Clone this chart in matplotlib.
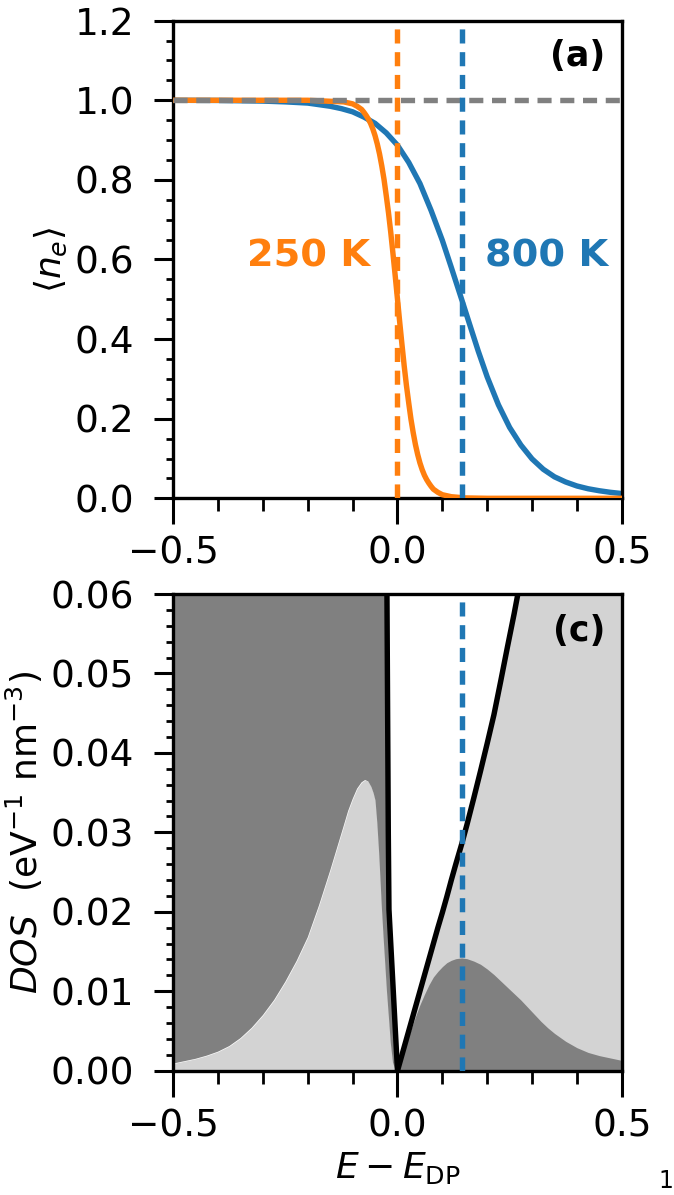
import matplotlib
matplotlib.use("Agg")
from matplotlib import pyplot as plt
from matplotlib.ticker import MultipleLocator

# Datos
# ========================================
# Panel (a): ocupacion <n_e> frente a E - E_DP
e_250 = [-0.5, -0.2, -0.12, -0.1, -0.09, -0.08, -0.075, -0.07, -0.065, -0.06,
         -0.055, -0.05, -0.045, -0.04, -0.035, -0.03, -0.025, -0.02, -0.015,
         -0.01, -0.005, 0.0, 0.005, 0.01, 0.015, 0.02, 0.025, 0.03, 0.035,
         0.04, 0.045, 0.05, 0.055, 0.06, 0.065, 0.07, 0.075, 0.08, 0.09, 0.1,
         0.12, 0.15, 0.2, 0.5]
n_250 = [1.0, 1.0, 0.996, 0.991, 0.985, 0.977, 0.970, 0.962, 0.953, 0.942,
         0.928, 0.911, 0.890, 0.865, 0.835, 0.801, 0.760, 0.717, 0.668,
         0.614, 0.558, 0.5, 0.442, 0.386, 0.332, 0.283, 0.240, 0.199, 0.165,
         0.135, 0.110, 0.089, 0.072, 0.058, 0.047, 0.038, 0.030, 0.023, 0.015,
         0.009, 0.004, 0.001, 0.0, 0.0]

e_800 = [-0.5, -0.4, -0.3, -0.25, -0.2, -0.15, -0.125, -0.1, -0.075, -0.05,
         -0.025, 0.0, 0.025, 0.05, 0.075, 0.1, 0.12, 0.143, 0.16, 0.18, 0.2,
         0.225, 0.25, 0.275, 0.3, 0.325, 0.35, 0.375, 0.4, 0.425, 0.45,
         0.475, 0.5]
n_800 = [1.0, 0.9996, 0.998, 0.996, 0.993, 0.985, 0.979, 0.971, 0.958, 0.942,
         0.918, 0.887, 0.844, 0.791, 0.723, 0.648, 0.58, 0.5, 0.44, 0.37,
         0.305, 0.235, 0.178, 0.134, 0.099, 0.073, 0.054, 0.041, 0.031, 0.024,
         0.019, 0.015, 0.012]

mu_250 = 0.0
mu_800 = 0.143

# Panel (c): densidad de estados (banda de valencia y de conduccion)
e_vb = [-0.5, -0.475, -0.45, -0.425, -0.4, -0.375, -0.35, -0.325, -0.3,
        -0.275, -0.25, -0.225, -0.2, -0.175, -0.15, -0.135, -0.12, -0.11,
        -0.1, -0.09, -0.08, -0.072, -0.065, -0.058, -0.053, -0.049, -0.045,
        -0.041, -0.038, -0.035, -0.031, -0.027, -0.0235, -0.0215, -0.0205,
        -0.019, -0.015, -0.01, -0.005, 0.0]
dos_vb = [0.2, 0.2, 0.2, 0.2, 0.2, 0.2, 0.2, 0.2, 0.2,
          0.2, 0.2, 0.2, 0.2, 0.2, 0.2, 0.2, 0.2, 0.2,
          0.2, 0.19, 0.18, 0.17, 0.16, 0.15, 0.14, 0.13, 0.12,
          0.11, 0.1, 0.095, 0.085, 0.072, 0.06, 0.04, 0.03,
          0.0203, 0.016, 0.0107, 0.0053, 0.0]
holes_vb = [0.0009, 0.0012, 0.0015, 0.0019, 0.0024, 0.0031, 0.0041, 0.0054,
            0.0070, 0.0089, 0.0112, 0.0138, 0.0168, 0.0208, 0.0252, 0.0280,
            0.0308, 0.0327, 0.0342, 0.0355, 0.0363, 0.0366, 0.0364, 0.0357,
            0.0349, 0.0340, 0.0312, 0.0275, 0.0242, 0.0207, 0.0168, 0.0132,
            0.0100, 0.0085, 0.0077, 0.0066, 0.0035, 0.0010, 0.0002, 0.0]

e_cb = [0.0, 0.01, 0.02, 0.03, 0.04, 0.05, 0.06, 0.07, 0.08, 0.09, 0.1,
        0.11, 0.12, 0.13, 0.143, 0.155, 0.17, 0.185, 0.2, 0.215, 0.23,
        0.245, 0.26, 0.275, 0.29, 0.305, 0.32, 0.335, 0.35, 0.375, 0.4,
        0.425, 0.45, 0.475, 0.5]
dos_cb = [0.0, 0.002, 0.004, 0.006, 0.008, 0.010, 0.012, 0.014, 0.016,
          0.018, 0.0199, 0.0219, 0.0240, 0.0260, 0.0285, 0.0310, 0.0343,
          0.0377, 0.0412, 0.0448, 0.0490, 0.0533, 0.0575, 0.0620, 0.0665,
          0.071, 0.075, 0.079, 0.083, 0.090, 0.097, 0.105, 0.112, 0.120,
          0.127]
elec_cb = [0.0, 0.0018, 0.0035, 0.0052, 0.0068, 0.0083, 0.0096, 0.0108,
           0.0118, 0.0125, 0.0131, 0.0136, 0.0139, 0.0141, 0.0142, 0.0141,
           0.0138, 0.0134, 0.0128, 0.0121, 0.0113, 0.0105, 0.0097, 0.0089,
           0.0080, 0.0071, 0.0062, 0.0054, 0.0047, 0.0037, 0.0029, 0.0023,
           0.0019, 0.0016, 0.0013]

# Estilo
# ========================================
plt.rcParams['font.family'] = ['DejaVu Sans']
plt.rcParams['font.size'] = 26
plt.rcParams['axes.linewidth'] = 2.4
plt.rcParams['mathtext.fontset'] = 'dejavusans'

c_orange = '#ff7f0e'
c_blue = '#1f77b4'
lw = 3.9
dash = (0, (2.6, 1.6))

fig = plt.figure(figsize=(6.74, 11.95), dpi=100)
ax1 = fig.add_axes([0.257, 0.583, 0.6655, 0.3997])
ax2 = fig.add_axes([0.257, 0.104, 0.6655, 0.3989])


def estilo_ejes(ax):
    ax.tick_params(axis='x', which='major', length=19, width=2.2, pad=8,
                   labelsize=27)
    ax.tick_params(axis='x', which='minor', length=9, width=2.0)
    ax.tick_params(axis='y', which='major', length=14, width=2.2, pad=14,
                   labelsize=27)
    ax.tick_params(axis='y', which='minor', length=5, width=2.0)
    ax.xaxis.set_major_locator(MultipleLocator(0.5))
    ax.xaxis.set_minor_locator(MultipleLocator(0.1))
    ax.set_xlim(-0.5, 0.5)


# Panel (a)
# ========================================
ax1.plot(e_800, n_800, '-', color=c_blue, lw=lw, zorder=2)
ax1.plot(e_250, n_250, '-', color=c_orange, lw=lw, zorder=3)
ax1.axhline(1.0, color='gray', lw=lw, ls=dash, zorder=4)
ax1.axvline(mu_250, color=c_orange, lw=lw, ls=dash, zorder=5)
ax1.axvline(mu_800, color=c_blue, lw=lw, ls=dash, zorder=5)
ax1.set_ylim(0, 1.2)
ax1.yaxis.set_major_locator(MultipleLocator(0.2))
ax1.yaxis.set_minor_locator(MultipleLocator(0.05))
estilo_ejes(ax1)
ax1.set_ylabel(r'$\langle n_e \rangle$')
ax1.text(-0.061, 0.607, '250 K', color=c_orange, fontweight='bold',
         fontsize=27.5, ha='right', va='center')
ax1.text(0.47, 0.607, '800 K', color=c_blue, fontweight='bold',
         fontsize=27.5, ha='right', va='center')
ax1.text(0.963, 0.925, '(a)', transform=ax1.transAxes, fontweight='bold',
         fontsize=25, ha='right', va='center')

# Panel (c)
# ========================================
ax2.fill_between(e_vb, 0, holes_vb, color='lightgray', lw=0, zorder=1)
ax2.fill_between(e_vb, holes_vb, dos_vb, color='gray', lw=0, zorder=1)
ax2.fill_between(e_cb, 0, dos_cb, color='lightgray', lw=0, zorder=1)
ax2.fill_between(e_cb, 0, elec_cb, color='gray', lw=0, zorder=2)
ax2.plot(e_vb, dos_vb, '-', color='black', lw=lw, zorder=3)
ax2.plot(e_cb, dos_cb, '-', color='black', lw=lw, zorder=3)
ax2.axvline(mu_800, color=c_blue, lw=lw, ls=dash, zorder=4)
ax2.set_ylim(0, 0.06)
ax2.yaxis.set_major_locator(MultipleLocator(0.01))
ax2.yaxis.set_minor_locator(MultipleLocator(0.002))
estilo_ejes(ax2)
ax2.set_ylabel(r'$DOS$  (eV$^{-1}$ nm$^{-3}$)')
ax2.set_xlabel(r'$E - E_{\rm DP}$')
ax2.text(0.963, 0.923, '(c)', transform=ax2.transAxes, fontweight='bold',
         fontsize=25, ha='right', va='center')

fig.text(0.988, 0.002, '1', fontsize=17, ha='center', va='bottom')

fig.savefig('out.png', dpi=100)
